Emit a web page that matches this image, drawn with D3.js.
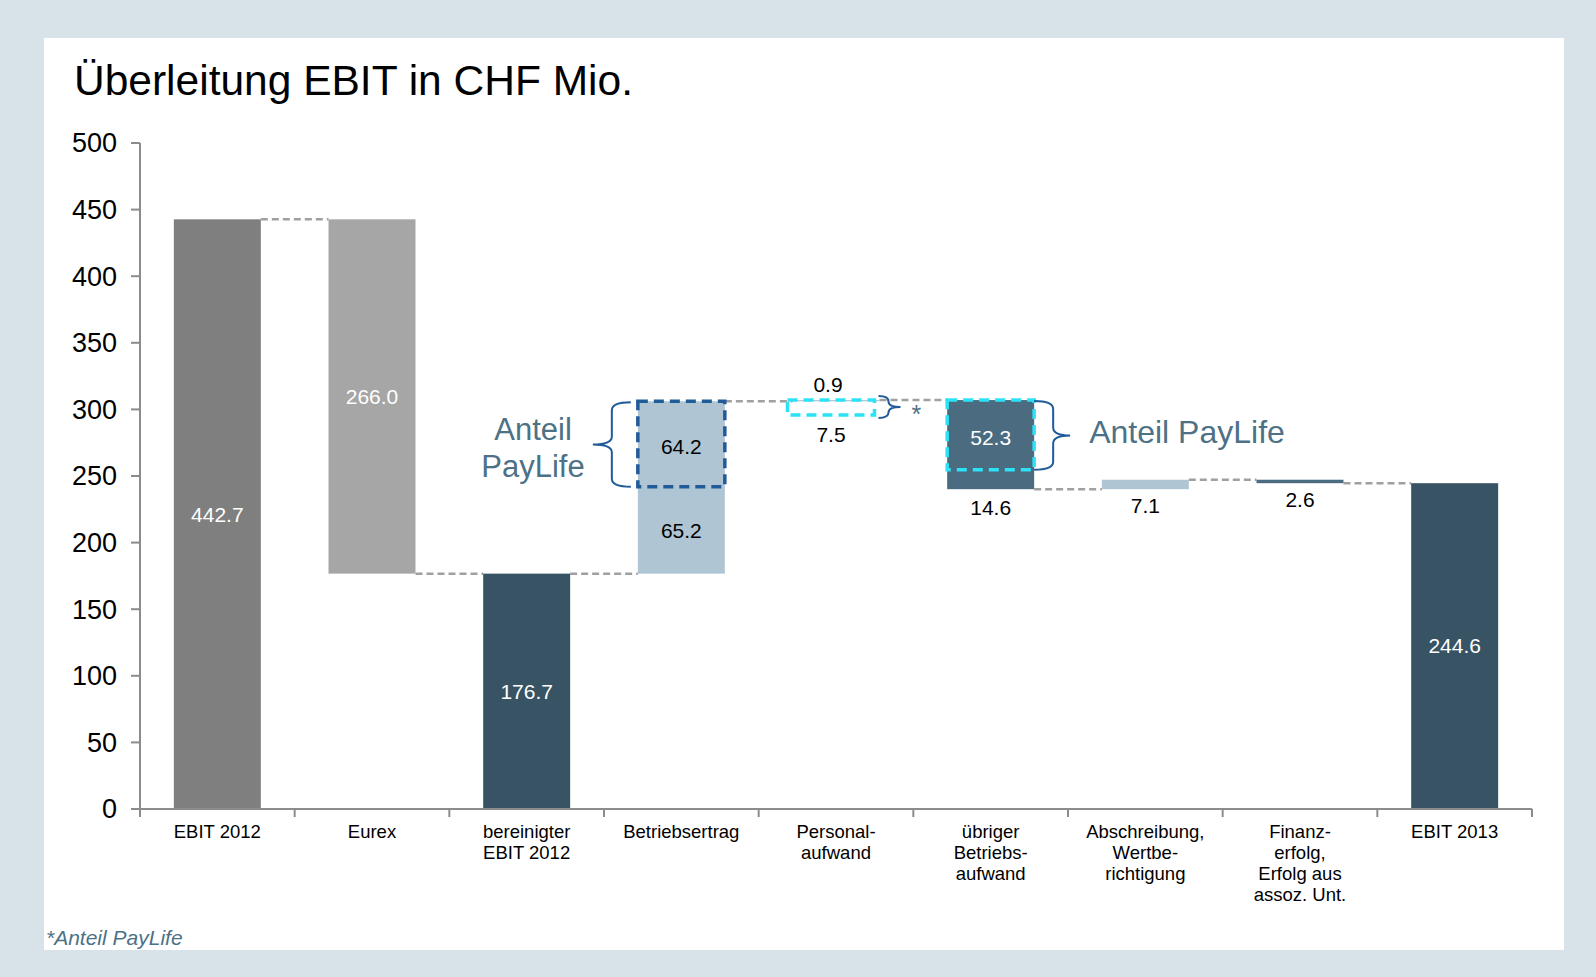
<!DOCTYPE html>
<html>
<head>
<meta charset="utf-8">
<script src="https://cdn.jsdelivr.net/npm/d3@7"></script>
<style>
  body { margin: 0; background: #d8e2e9; }
  svg text { font-family: Arial, "Liberation Sans", sans-serif; }
</style>
</head>
<body>
<div id="chart"></div>
<script>
// Data
const categories = ["EBIT 2012", "Eurex", "bereinigter EBIT 2012", "Betriebsertrag",
  "Personalaufwand", "übriger Betriebsaufwand", "Abschreibung, Wertberichtigung",
  "Finanzerfolg, Erfolg aus assoz. Unt.", "EBIT 2013"];
const categoryLines = [["EBIT 2012"], ["Eurex"], ["bereinigter", "EBIT 2012"], ["Betriebsertrag"],
  ["Personal-", "aufwand"], ["übriger", "Betriebs-", "aufwand"], ["Abschreibung,", "Wertbe-", "richtigung"],
  ["Finanz-", "erfolg,", "Erfolg aus", "assoz. Unt."], ["EBIT 2013"]];
const kinds = ["total", "delta", "total", "delta", "delta", "delta", "delta", "delta", "total"];
const values = [442.7, -266.0, 176.7, 129.4, 0.9, -66.9, 7.1, -2.6, 244.6];
const payLife = [0, 0, 0, 64.2, 7.5, 52.3, 0, 0, 0];
const yTicks = [0, 50, 100, 150, 200, 250, 300, 350, 400, 450, 500];

// Styles
const W = 1596, H = 977;
const BAR_COLORS = ["#7f7f7f", "#a6a6a6", "#385364", "#afc5d3", "#afc5d3", "#4a6b80", "#afc5d3", "#4a6b80", "#385364"];
const DARK_BLUE = "#1f5c99";
const CYAN = "#2de2f6";
const NOTE = "#4d7186";
const AXIS = "#8c8c8c";

const svg = d3.select("#chart").append("svg").attr("width", W).attr("height", H);

svg.append("rect").attr("x", 0).attr("y", 0).attr("width", W).attr("height", H).attr("fill", "#d8e2e9");
svg.append("rect").attr("x", 44).attr("y", 38).attr("width", 1520).attr("height", 912).attr("fill", "#ffffff");

svg.append("text").attr("x", 74).attr("y", 95).attr("font-size", 42.5).attr("fill", "#000")
  .text("Überleitung EBIT in CHF Mio.");

const x = d3.scaleBand().domain(categories).range([140, 1532]).paddingInner(0.4376).paddingOuter(0.2188);
const y = d3.scaleLinear().domain([0, 500]).range([809, 143]);

// waterfall levels
let level = 0;
const bars = values.map((v, i) => {
  let start, end;
  if (kinds[i] === "total") { start = 0; end = v; }
  else { start = level; end = level + v; }
  level = end;
  return { i, cat: categories[i], v, start, end, top: Math.max(start, end), bottom: Math.min(start, end), pl: payLife[i] };
});

// connectors
const conn = svg.append("g");
for (let i = 0; i < bars.length - 1; i++) {
  conn.append("line")
    .attr("x1", x(bars[i].cat) + x.bandwidth()).attr("x2", x(bars[i + 1].cat))
    .attr("y1", y(bars[i].end)).attr("y2", y(bars[i].end))
    .attr("stroke", "#a0a0a0").attr("stroke-width", 2.5).attr("stroke-dasharray", "7,4");
}

// bars
svg.append("g").selectAll("rect").data(bars).join("rect")
  .attr("x", d => x(d.cat))
  .attr("width", x.bandwidth())
  .attr("y", d => y(d.top))
  .attr("height", d => Math.max(y(d.bottom) - y(d.top), 1))
  .attr("fill", d => BAR_COLORS[d.i]);

// axes
const axisG = svg.append("g");
axisG.append("line").attr("x1", 140).attr("x2", 140).attr("y1", y(500)).attr("y2", y(0))
  .attr("stroke", AXIS).attr("stroke-width", 2);
axisG.append("line").attr("x1", 140).attr("x2", 1532).attr("y1", y(0)).attr("y2", y(0))
  .attr("stroke", AXIS).attr("stroke-width", 2);
axisG.selectAll(".yt").data(yTicks).join("line")
  .attr("x1", 131).attr("x2", 140).attr("y1", d => y(d)).attr("y2", d => y(d))
  .attr("stroke", AXIS).attr("stroke-width", 2);
axisG.selectAll(".yl").data(yTicks).join("text")
  .attr("x", 117).attr("y", d => y(d)).attr("dy", "0.35em")
  .attr("text-anchor", "end").attr("font-size", 27).attr("fill", "#000")
  .text(d => d);
const bounds = d3.range(categories.length + 1).map(k => 140 + k * x.step());
axisG.selectAll(".xt").data(bounds).join("line")
  .attr("x1", d => d).attr("x2", d => d).attr("y1", y(0)).attr("y2", y(0) + 8)
  .attr("stroke", AXIS).attr("stroke-width", 2);
categoryLines.forEach((lines, i) => {
  const t = axisG.append("text").attr("text-anchor", "middle").attr("font-size", 18.5).attr("fill", "#000");
  lines.forEach((ln, k) => {
    t.append("tspan").attr("x", x(categories[i]) + x.bandwidth() / 2)
      .attr("y", 832 + k * 21).attr("dy", "0.35em").text(ln);
  });
});

// PayLife boxes (a box hanging under a small bar is drawn a little left and taller, as in the source)
const boxes = bars.filter(d => d.pl > 0).map(d => {
  const hang = d.pl > Math.abs(d.v);
  return { ...d, hang, bx: x(d.cat) - (hang ? 5 : 0), bTop: y(d.top), bBot: y(d.top - d.pl) + (hang ? 5 : 0) };
});
svg.append("g").selectAll("rect").data(boxes).join("rect")
  .attr("x", d => d.bx).attr("width", x.bandwidth())
  .attr("y", d => d.bTop).attr("height", d => d.bBot - d.bTop)
  .attr("fill", "none")
  .attr("stroke", d => d.v > 0 && !d.hang ? DARK_BLUE : CYAN)
  .attr("stroke-width", 3.5).attr("stroke-dasharray", "10,6");

// value labels
const lab = svg.append("g").attr("font-size", 21).attr("text-anchor", "middle");
function label(cx, cy, txt, col) {
  lab.append("text").attr("x", cx).attr("y", cy).attr("dy", "0.35em").attr("fill", col).text(txt);
}
bars.forEach(d => {
  const cx = x(d.cat) + x.bandwidth() / 2;
  const light = BAR_COLORS[d.i] === "#afc5d3";
  const abs = Math.abs(d.v);
  if (d.pl === 0) {
    if (y(d.bottom) - y(d.top) > 30) label(cx, (y(d.top) + y(d.bottom)) / 2, abs.toFixed(1), light ? "#000" : "#fff");
    else label(cx, y(d.bottom) + 16, abs.toFixed(1), "#000");
  } else if (d.pl <= abs) {
    const split = d.top - d.pl;
    label(cx, (y(d.top) + y(split)) / 2 + 3, d.pl.toFixed(1), light ? "#000" : "#fff");
    const rest = abs - d.pl;
    if (y(d.bottom) - y(split) > 30) label(cx, (y(split) + y(d.bottom)) / 2, rest.toFixed(1), light ? "#000" : "#fff");
    else label(cx, y(d.bottom) + 18, rest.toFixed(1), "#000");
  } else {
    const b = boxes.find(o => o.i === d.i);
    const bcx = b.bx + x.bandwidth() / 2;
    label(bcx - 3, y(d.top) - 15, abs.toFixed(1), "#000");
    label(bcx, b.bBot + 20, d.pl.toFixed(1), "#000");
  }
});

// braces
function brace(x0, x1, x2, y0, y1) {
  const ym = (y0 + y1) / 2, r = Math.min(8, (y1 - y0) / 4);
  return `M${x0},${y0} Q${x1},${y0} ${x1},${y0 + r} L${x1},${ym - r} Q${x1},${ym} ${x2},${ym}` +
    ` Q${x1},${ym} ${x1},${ym + r} L${x1},${y1 - r} Q${x1},${y1} ${x0},${y1}`;
}
const br = svg.append("g").attr("fill", "none").attr("stroke", DARK_BLUE).attr("stroke-width", 2);
const be = bars[3], ub = bars[5];
const pb = boxes.find(o => o.i === 4);
const beL = x(be.cat);
br.append("path").attr("d", brace(beL - 7, beL - 26, beL - 45, y(be.top) + 1, y(be.top - be.pl)));
const peR = pb.bx + x.bandwidth();
br.append("path").attr("d", brace(peR + 4, peR + 14, peR + 26, pb.bTop - 4, pb.bBot + 3));
const ubR = x(ub.cat) + x.bandwidth();
br.append("path").attr("d", brace(ubR, ubR + 19, ubR + 36, y(ub.top) + 1, y(ub.top - ub.pl)));

// annotations
const note = svg.append("g").attr("fill", NOTE);
const lt = note.append("text").attr("font-size", 31).attr("text-anchor", "middle");
lt.append("tspan").attr("x", 533).attr("y", 440).text("Anteil");
lt.append("tspan").attr("x", 533).attr("y", 477).text("PayLife");
note.append("text").attr("x", ubR + 55).attr("y", 443).attr("font-size", 32).text("Anteil PayLife");
note.append("text").attr("x", peR + 37).attr("y", 423).attr("font-size", 25).text("*");
note.append("text").attr("x", 46).attr("y", 945).attr("font-size", 21).attr("font-style", "italic").text("*Anteil PayLife");
</script>
</body>
</html>
